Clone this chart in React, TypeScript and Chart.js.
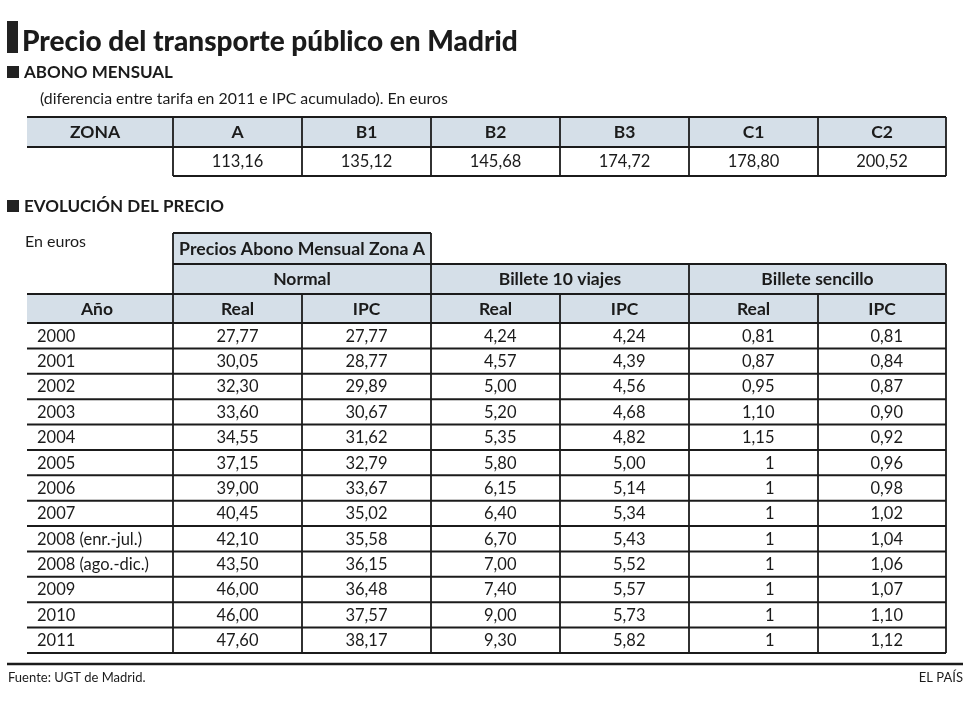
import React, { useEffect, useRef } from "react";
import { Chart, registerables } from "chart.js";

Chart.register(...registerables);

// ---------- text & data ----------
const TITLE = "Precio del transporte público en Madrid";
const SECTION_1 = "ABONO MENSUAL";
const SUBTITLE_1 = "(diferencia entre tarifa en 2011 e IPC acumulado). En euros";
const ZONE_HEADER = "ZONA";
const zones = ["A", "B1", "B2", "B3", "C1", "C2"];
const zoneValues = ["113,16", "135,12", "145,68", "174,72", "178,80", "200,52"];

const SECTION_2 = "EVOLUCIÓN DEL PRECIO";
const UNITS_2 = "En euros";
const GROUP_TOP = "Precios Abono Mensual Zona A";
const groups = ["Normal", "Billete 10 viajes", "Billete sencillo"];
const YEAR_HEADER = "Año";
const subColumns = ["Real", "IPC", "Real", "IPC", "Real", "IPC"];
const years = [
  "2000", "2001", "2002", "2003", "2004", "2005", "2006", "2007",
  "2008 (enr.-jul.)", "2008 (ago.-dic.)", "2009", "2010", "2011",
];
const normalReal = ["27,77", "30,05", "32,30", "33,60", "34,55", "37,15", "39,00", "40,45", "42,10", "43,50", "46,00", "46,00", "47,60"];
const normalIPC = ["27,77", "28,77", "29,89", "30,67", "31,62", "32,79", "33,67", "35,02", "35,58", "36,15", "36,48", "37,57", "38,17"];
const diezReal = ["4,24", "4,57", "5,00", "5,20", "5,35", "5,80", "6,15", "6,40", "6,70", "7,00", "7,40", "9,00", "9,30"];
const diezIPC = ["4,24", "4,39", "4,56", "4,68", "4,82", "5,00", "5,14", "5,34", "5,43", "5,52", "5,57", "5,73", "5,82"];
const sencilloReal = ["0,81", "0,87", "0,95", "1,10", "1,15", "1", "1", "1", "1", "1", "1", "1", "1"];
const sencilloIPC = ["0,81", "0,84", "0,87", "0,90", "0,92", "0,96", "0,98", "1,02", "1,04", "1,06", "1,07", "1,10", "1,12"];
const SOURCE = "Fuente: UGT de Madrid.";
const CREDIT = "EL PAÍS";

// ---------- layout (scale units) ----------
const W = 970;
const H = 705;
const colEdges = [27, 173, 302, 431, 560, 689, 818, 946];
const t1Top = 117, t1Mid = 147, t1Bot = 176;
const t2Group = 233, t2Sub = 264, t2Head = 294, t2DataTop = 323, t2DataBot = 653;

const FONT = "Lato, 'Open Sans', sans-serif";
const INK = "#1b1b1b";
const FILL = "#d5dfe8";
const HEAD_SIZE = 17.5;

const tablePlugin = {
  id: "tablePlugin",
  afterDraw(chart: any) {
    const ctx: CanvasRenderingContext2D = chart.ctx;
    const xs = chart.scales.x;
    const ys = chart.scales.y;
    const X = (v: number) => xs.getPixelForValue(v);
    const Y = (v: number) => ys.getPixelForValue(v);

    const text = (
      s: string, x: number, cy: number, size: number, weight: string,
      align: CanvasTextAlign = "center", fitWidth?: number
    ) => {
      ctx.save();
      ctx.font = `${weight} ${size}px ${FONT}`;
      let sz = size;
      if (fitWidth) {
        const w = ctx.measureText(s).width;
        sz = size * (fitWidth / w);
        ctx.font = `${weight} ${sz}px ${FONT}`;
      }
      ctx.fillStyle = INK;
      ctx.textAlign = align;
      ctx.textBaseline = "alphabetic";
      ctx.fillText(s, X(x), Y(cy) + sz * 0.36);
      ctx.restore();
    };
    const hline = (x1: number, x2: number, y: number, lw = 2) => {
      ctx.save();
      ctx.strokeStyle = INK;
      ctx.lineWidth = lw;
      ctx.beginPath();
      ctx.moveTo(X(x1), Y(y));
      ctx.lineTo(X(x2), Y(y));
      ctx.stroke();
      ctx.restore();
    };
    const vline = (x: number, y1: number, y2: number, lw = 1.8) => {
      ctx.save();
      ctx.strokeStyle = INK;
      ctx.lineWidth = lw;
      ctx.beginPath();
      ctx.moveTo(X(x), Y(y1));
      ctx.lineTo(X(x), Y(y2));
      ctx.stroke();
      ctx.restore();
    };
    const fill = (x1: number, y1: number, x2: number, y2: number, c = FILL) => {
      ctx.save();
      ctx.fillStyle = c;
      ctx.fillRect(X(x1), Y(y1), X(x2) - X(x1), Y(y2) - Y(y1));
      ctx.restore();
    };
    const center = (i: number) => (colEdges[i] + colEdges[i + 1]) / 2;
    const numRight = (i: number) => center(i) + 21;

    // white background
    fill(0, 0, W, H, "#ffffff");

    // title
    fill(7, 21, 18, 53, "#222222");
    text(TITLE, 22, 41, 28, "900", "left", 496);

    // section 1
    fill(7, 66, 19, 78, "#222222");
    text(SECTION_1, 24, 72, 16, "bold", "left", 149);
    text(SUBTITLE_1, 40, 98, 15, "normal", "left", 408);

    // table 1
    fill(colEdges[0], t1Top, colEdges[7], t1Mid);
    hline(colEdges[0], colEdges[7], t1Top);
    hline(colEdges[0], colEdges[7], t1Mid);
    hline(colEdges[1], colEdges[7], t1Bot);
    for (let i = 1; i < colEdges.length; i++) vline(colEdges[i], t1Top, t1Bot);
    text(ZONE_HEADER, center(0) - 5, (t1Top + t1Mid) / 2, HEAD_SIZE, "bold");
    zones.forEach((z, i) => text(z, center(i + 1), (t1Top + t1Mid) / 2, HEAD_SIZE, "bold"));
    zoneValues.forEach((v, i) => text(v, center(i + 1), (t1Mid + t1Bot) / 2, 16.5, "normal"));

    // section 2
    fill(7, 200, 19, 212, "#222222");
    text(SECTION_2, 24, 206, 16, "bold", "left", 200);
    text(UNITS_2, 25, 241, 16, "normal", "left");

    // table 2 header fills
    fill(colEdges[1], t2Group, colEdges[3], t2Sub);
    fill(colEdges[1], t2Sub, colEdges[7], t2Head);
    fill(colEdges[0], t2Head, colEdges[7], t2DataTop);

    // header lines
    hline(colEdges[1], colEdges[3], t2Group);
    hline(colEdges[1], colEdges[7], t2Sub);
    hline(colEdges[0], colEdges[7], t2Head);
    vline(colEdges[1], t2Group, t2DataBot);
    vline(colEdges[3], t2Group, t2Sub);
    vline(colEdges[3], t2Sub, t2DataBot);
    vline(colEdges[5], t2Sub, t2DataBot);
    vline(colEdges[7], t2Sub, t2DataBot);
    [2, 4, 6].forEach((i) => vline(colEdges[i], t2Head, t2DataBot));

    text(GROUP_TOP, (colEdges[1] + colEdges[3]) / 2, (t2Group + t2Sub) / 2, HEAD_SIZE, "bold", "center", 246);
    groups.forEach((g, k) =>
      text(g, (colEdges[1 + 2 * k] + colEdges[3 + 2 * k]) / 2, (t2Sub + t2Head) / 2, HEAD_SIZE, "bold")
    );
    text(YEAR_HEADER, center(0) - 3, (t2Head + t2DataTop) / 2, HEAD_SIZE, "bold");
    subColumns.forEach((s, i) => text(s, center(i + 1), (t2Head + t2DataTop) / 2, HEAD_SIZE, "bold"));

    // data rows
    const rowH = (t2DataBot - t2DataTop) / years.length;
    const series = [normalReal, normalIPC, diezReal, diezIPC, sencilloReal, sencilloIPC];
    hline(colEdges[0], colEdges[7], t2DataTop);
    years.forEach((yr, r) => {
      const top = t2DataTop + r * rowH;
      const cy = top + rowH / 2;
      hline(colEdges[0], colEdges[7], top + rowH);
      text(yr, 37, cy, 16.5, "normal", "left");
      series.forEach((s, c) => text(s[r], numRight(c + 1), cy, 16.5, "normal", "right"));
    });

    // footer
    hline(7, 963, 664, 2.5);
    text(SOURCE, 8, 677, 13, "normal", "left");
    text(CREDIT, 963, 677, 13, "normal", "right");
  },
};

export default function App() {
  const canvasRef = useRef<HTMLCanvasElement | null>(null);

  useEffect(() => {
    document.body.style.margin = "0";
    const canvas = canvasRef.current;
    if (!canvas) return;
    const chart = new Chart(canvas, {
      type: "scatter",
      data: { datasets: [] },
      options: {
        animation: false,
        responsive: false,
        maintainAspectRatio: false,
        layout: { padding: 0 },
        plugins: { legend: { display: false }, tooltip: { enabled: false }, title: { display: false } },
        scales: {
          x: { type: "linear", min: 0, max: W, display: false },
          y: { type: "linear", min: 0, max: H, reverse: true, display: false },
        },
      },
      plugins: [tablePlugin],
    });
    return () => chart.destroy();
  }, []);

  return (
    <div style={{ width: W, height: H }}>
      <canvas ref={canvasRef} width={W} height={H} style={{ display: "block" }} />
    </div>
  );
}
